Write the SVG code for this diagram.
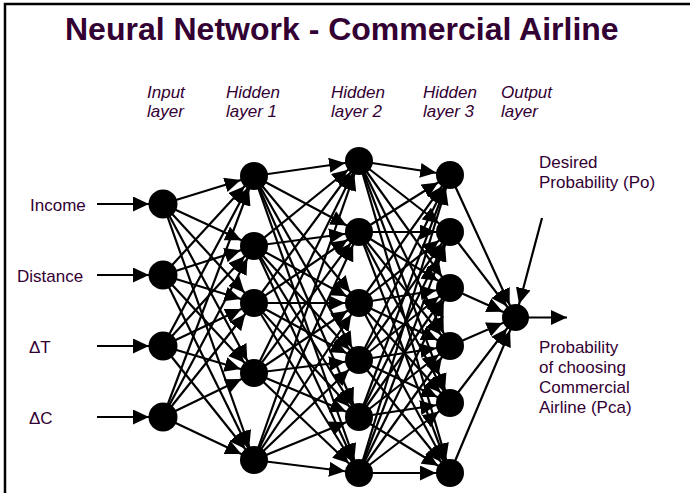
<svg xmlns="http://www.w3.org/2000/svg" width="696" height="493" viewBox="0 0 696 493">
  <style>
    text { font-family: "Liberation Sans", Arial, sans-serif; fill: #330033; }
    .title { font-size: 32px; font-weight: bold; }
    .lbl { font-size: 17px; }
    .layer { font-size: 17px; font-style: italic; }
    .conn line { stroke: #000; stroke-width: 2.2; marker-end: url(#ah); }
    .conn line.out { marker-end: url(#ahEnd); }
    .node circle { fill: #000; }
  </style>
  <defs>
    <!-- arrowhead whose tip stops on the rim of a node (r = 14) -->
    <marker id="ah" markerUnits="userSpaceOnUse" markerWidth="31" markerHeight="15" refX="30" refY="7.5" orient="auto">
      <path d="M0,0 L16,7.5 L0,15 z" fill="#000"/>
    </marker>
    <!-- arrowhead whose tip sits at the line end -->
    <marker id="ahEnd" markerUnits="userSpaceOnUse" markerWidth="17" markerHeight="15" refX="16" refY="7.5" orient="auto">
      <path d="M0,0 L16,7.5 L0,15 z" fill="#000"/>
    </marker>
  </defs>

  <rect width="696" height="493" fill="#fff"/>
  <!-- slide frame (top and left edges) -->
  <path d="M5,495 V4 H690" fill="none" stroke="#000" stroke-width="2.5"/>

  <text class="title" x="65" y="40">Neural Network - Commercial Airline</text>

  <g id="layer-labels">
    <text class="layer" x="147" y="98">Input</text>
    <text class="layer" x="147" y="117">layer</text>
    <text class="layer" x="226" y="98">Hidden</text>
    <text class="layer" x="226" y="117">layer 1</text>
    <text class="layer" x="331" y="98">Hidden</text>
    <text class="layer" x="331" y="117">layer 2</text>
    <text class="layer" x="423" y="98">Hidden</text>
    <text class="layer" x="423" y="117">layer 3</text>
    <text class="layer" x="501" y="98">Output</text>
    <text class="layer" x="501" y="117">layer</text>
  </g>

  <g id="input-labels">
    <text class="lbl" x="30" y="211">Income</text>
    <text class="lbl" x="17" y="282">Distance</text>
    <text class="lbl" x="29" y="353">ΔT</text>
    <text class="lbl" x="29" y="424">ΔC</text>
  </g>

  <g id="output-labels">
    <text class="lbl" x="539" y="168">Desired</text>
    <text class="lbl" x="539" y="188">Probability (Po)</text>
    <text class="lbl" x="539" y="353">Probability</text>
    <text class="lbl" x="539" y="373">of choosing</text>
    <text class="lbl" x="539" y="393">Commercial</text>
    <text class="lbl" x="539" y="413">Airline (Pca)</text>
  </g>

  <g id="connectors" class="conn">
    <!-- external inputs -->
    <line x1="97" y1="204" x2="163" y2="204"/>
    <line x1="97" y1="275" x2="163" y2="275"/>
    <line x1="97" y1="346" x2="163" y2="346"/>
    <line x1="97" y1="417" x2="163" y2="417"/>

    <!-- input layer to hidden layer 1 -->
    <line x1="163" y1="204" x2="254" y2="176"/>
    <line x1="163" y1="204" x2="254" y2="246"/>
    <line x1="163" y1="204" x2="254" y2="303"/>
    <line x1="163" y1="204" x2="254" y2="373"/>
    <line x1="163" y1="204" x2="254" y2="460"/>
    <line x1="163" y1="275" x2="254" y2="176"/>
    <line x1="163" y1="275" x2="254" y2="246"/>
    <line x1="163" y1="275" x2="254" y2="303"/>
    <line x1="163" y1="275" x2="254" y2="373"/>
    <line x1="163" y1="275" x2="254" y2="460"/>
    <line x1="163" y1="346" x2="254" y2="176"/>
    <line x1="163" y1="346" x2="254" y2="246"/>
    <line x1="163" y1="346" x2="254" y2="303"/>
    <line x1="163" y1="346" x2="254" y2="373"/>
    <line x1="163" y1="346" x2="254" y2="460"/>
    <line x1="163" y1="417" x2="254" y2="176"/>
    <line x1="163" y1="417" x2="254" y2="246"/>
    <line x1="163" y1="417" x2="254" y2="303"/>
    <line x1="163" y1="417" x2="254" y2="373"/>
    <line x1="163" y1="417" x2="254" y2="460"/>

    <!-- hidden layer 1 to hidden layer 2 -->
    <line x1="254" y1="176" x2="359" y2="161"/>
    <line x1="254" y1="176" x2="359" y2="232"/>
    <line x1="254" y1="176" x2="359" y2="303"/>
    <line x1="254" y1="176" x2="359" y2="360"/>
    <line x1="254" y1="176" x2="359" y2="417"/>
    <line x1="254" y1="176" x2="359" y2="473"/>
    <line x1="254" y1="246" x2="359" y2="161"/>
    <line x1="254" y1="246" x2="359" y2="232"/>
    <line x1="254" y1="246" x2="359" y2="303"/>
    <line x1="254" y1="246" x2="359" y2="360"/>
    <line x1="254" y1="246" x2="359" y2="417"/>
    <line x1="254" y1="246" x2="359" y2="473"/>
    <line x1="254" y1="303" x2="359" y2="161"/>
    <line x1="254" y1="303" x2="359" y2="232"/>
    <line x1="254" y1="303" x2="359" y2="303"/>
    <line x1="254" y1="303" x2="359" y2="360"/>
    <line x1="254" y1="303" x2="359" y2="417"/>
    <line x1="254" y1="303" x2="359" y2="473"/>
    <line x1="254" y1="373" x2="359" y2="161"/>
    <line x1="254" y1="373" x2="359" y2="232"/>
    <line x1="254" y1="373" x2="359" y2="303"/>
    <line x1="254" y1="373" x2="359" y2="360"/>
    <line x1="254" y1="373" x2="359" y2="417"/>
    <line x1="254" y1="373" x2="359" y2="473"/>
    <line x1="254" y1="460" x2="359" y2="161"/>
    <line x1="254" y1="460" x2="359" y2="232"/>
    <line x1="254" y1="460" x2="359" y2="303"/>
    <line x1="254" y1="460" x2="359" y2="360"/>
    <line x1="254" y1="460" x2="359" y2="417"/>
    <line x1="254" y1="460" x2="359" y2="473"/>

    <!-- hidden layer 2 to hidden layer 3 -->
    <line x1="359" y1="161" x2="450" y2="175"/>
    <line x1="359" y1="161" x2="450" y2="232"/>
    <line x1="359" y1="161" x2="450" y2="288"/>
    <line x1="359" y1="161" x2="450" y2="346"/>
    <line x1="359" y1="161" x2="450" y2="403"/>
    <line x1="359" y1="161" x2="450" y2="473"/>
    <line x1="359" y1="232" x2="450" y2="175"/>
    <line x1="359" y1="232" x2="450" y2="232"/>
    <line x1="359" y1="232" x2="450" y2="288"/>
    <line x1="359" y1="232" x2="450" y2="346"/>
    <line x1="359" y1="232" x2="450" y2="403"/>
    <line x1="359" y1="232" x2="450" y2="473"/>
    <line x1="359" y1="303" x2="450" y2="175"/>
    <line x1="359" y1="303" x2="450" y2="232"/>
    <line x1="359" y1="303" x2="450" y2="288"/>
    <line x1="359" y1="303" x2="450" y2="346"/>
    <line x1="359" y1="303" x2="450" y2="403"/>
    <line x1="359" y1="303" x2="450" y2="473"/>
    <line x1="359" y1="360" x2="450" y2="175"/>
    <line x1="359" y1="360" x2="450" y2="232"/>
    <line x1="359" y1="360" x2="450" y2="288"/>
    <line x1="359" y1="360" x2="450" y2="346"/>
    <line x1="359" y1="360" x2="450" y2="403"/>
    <line x1="359" y1="360" x2="450" y2="473"/>
    <line x1="359" y1="417" x2="450" y2="175"/>
    <line x1="359" y1="417" x2="450" y2="232"/>
    <line x1="359" y1="417" x2="450" y2="288"/>
    <line x1="359" y1="417" x2="450" y2="346"/>
    <line x1="359" y1="417" x2="450" y2="403"/>
    <line x1="359" y1="417" x2="450" y2="473"/>
    <line x1="359" y1="473" x2="450" y2="175"/>
    <line x1="359" y1="473" x2="450" y2="232"/>
    <line x1="359" y1="473" x2="450" y2="288"/>
    <line x1="359" y1="473" x2="450" y2="346"/>
    <line x1="359" y1="473" x2="450" y2="403"/>
    <line x1="359" y1="473" x2="450" y2="473"/>

    <!-- hidden layer 3 to output -->
    <line x1="450" y1="175" x2="515.5" y2="317.5"/>
    <line x1="450" y1="232" x2="515.5" y2="317.5"/>
    <line x1="450" y1="288" x2="515.5" y2="317.5"/>
    <line x1="450" y1="346" x2="515.5" y2="317.5"/>
    <line x1="450" y1="403" x2="515.5" y2="317.5"/>
    <line x1="450" y1="473" x2="515.5" y2="317.5"/>

    <!-- desired probability into output, and result out -->
    <line x1="542" y1="218" x2="515.5" y2="317.5"/>
    <line class="out" x1="515.5" y1="317.5" x2="567" y2="317.5"/>
  </g>

  <g id="input-layer" class="node">
    <g id="in-income"><circle cx="163" cy="204" r="14.5"/></g>
    <g id="in-distance"><circle cx="163" cy="275" r="14.5"/></g>
    <g id="in-dt"><circle cx="163" cy="346" r="14.5"/></g>
    <g id="in-dc"><circle cx="163" cy="417" r="14.5"/></g>
  </g>
  <g id="hidden-layer-1" class="node">
    <g id="h1-1"><circle cx="254" cy="176" r="14"/></g>
    <g id="h1-2"><circle cx="254" cy="246" r="14"/></g>
    <g id="h1-3"><circle cx="254" cy="303" r="14"/></g>
    <g id="h1-4"><circle cx="254" cy="373" r="14"/></g>
    <g id="h1-5"><circle cx="254" cy="460" r="14"/></g>
  </g>
  <g id="hidden-layer-2" class="node">
    <g id="h2-1"><circle cx="359" cy="161" r="14"/></g>
    <g id="h2-2"><circle cx="359" cy="232" r="14"/></g>
    <g id="h2-3"><circle cx="359" cy="303" r="14"/></g>
    <g id="h2-4"><circle cx="359" cy="360" r="14"/></g>
    <g id="h2-5"><circle cx="359" cy="417" r="14"/></g>
    <g id="h2-6"><circle cx="359" cy="473" r="14"/></g>
  </g>
  <g id="hidden-layer-3" class="node">
    <g id="h3-1"><circle cx="450" cy="175" r="14"/></g>
    <g id="h3-2"><circle cx="450" cy="232" r="14"/></g>
    <g id="h3-3"><circle cx="450" cy="288" r="14"/></g>
    <g id="h3-4"><circle cx="450" cy="346" r="14"/></g>
    <g id="h3-5"><circle cx="450" cy="403" r="14"/></g>
    <g id="h3-6"><circle cx="450" cy="473" r="14"/></g>
  </g>
  <g id="output-layer" class="node">
    <g id="out"><circle cx="515.5" cy="317.5" r="13.5"/></g>
  </g>
</svg>
